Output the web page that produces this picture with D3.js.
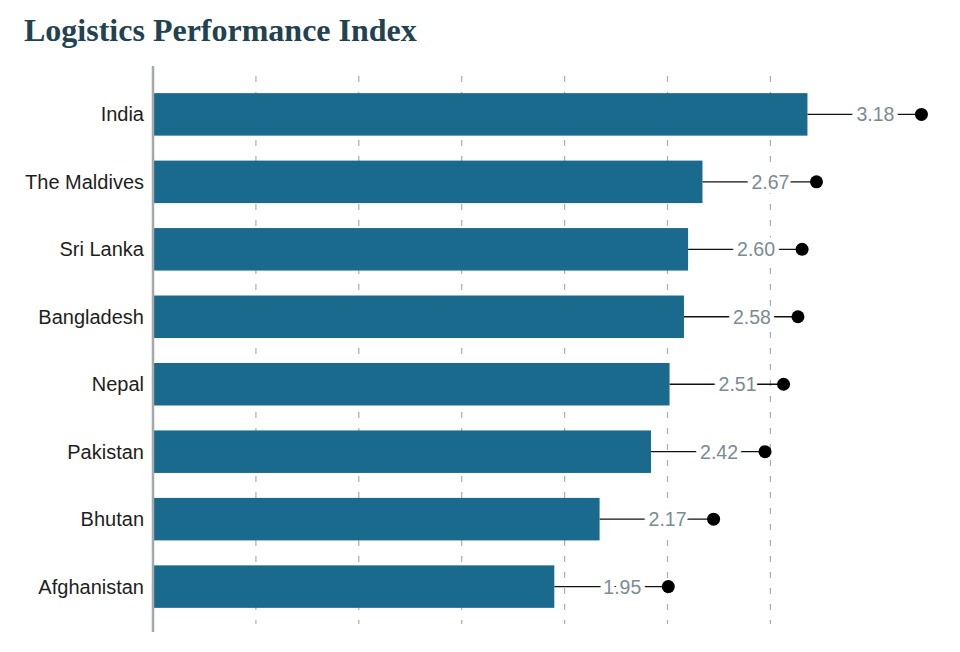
<!DOCTYPE html>
<html>
<head>
<meta charset="utf-8">
<script src="https://cdn.jsdelivr.net/npm/d3@7"></script>
<style>
  body { margin: 0; background: #fff; }
  #chart { width: 960px; height: 652px; }
</style>
</head>
<body>
<div id="chart"></div>
<script>
// chart values
const countries = ["India", "The Maldives", "Sri Lanka", "Bangladesh", "Nepal", "Pakistan", "Bhutan", "Afghanistan"];
const scores = [3.18, 2.67, 2.60, 2.58, 2.51, 2.42, 2.17, 1.95];
const gridTicks = [0.5, 1, 1.5, 2, 2.5, 3];

const width = 960;
const height = 652;
const left = 153;

const svg = d3.select("#chart")
    .append("svg")
    .attr("width", width)
    .attr("height", height);

// Title
svg.append("text")
    .attr("x", 24)
    .attr("y", 41)
    .style("font-family", "'Liberation Serif', 'DejaVu Serif', serif")
    .style("font-weight", "bold")
    .style("font-size", "32px")
    .style("fill", "#23424f")
    .text("Logistics Performance Index");

const x = d3.scaleLinear()
    .domain([0, 3])
    .range([left, left + 3 * 205.8]);

const y = d3.scaleBand()
    .domain(countries)
    .range([81, 620])
    .paddingInner(0.37)
    .paddingOuter(0.18);

// Dashed gridlines
svg.selectAll(".grid")
    .data(gridTicks)
    .join("line")
    .attr("class", "grid")
    .attr("x1", d => x(d))
    .attr("x2", d => x(d))
    .attr("y1", 76)
    .attr("y2", 624)
    .style("stroke", "#a9aeb1")
    .style("stroke-width", 1.2)
    .style("stroke-dasharray", "6,10");

const rows = countries.map((c, i) => ({ country: c, value: scores[i] }));

// Connector lines from bar end to dot
svg.selectAll(".conn")
    .data(rows)
    .join("line")
    .attr("class", "conn")
    .attr("x1", d => x(d.value))
    .attr("x2", d => x(d.value) + 114)
    .attr("y1", d => y(d.country) + y.bandwidth() / 2)
    .attr("y2", d => y(d.country) + y.bandwidth() / 2)
    .style("stroke", "#111")
    .style("stroke-width", 1.3);

// Bars
svg.selectAll(".bar")
    .data(rows)
    .join("rect")
    .attr("class", "bar")
    .attr("x", x(0) + 1)
    .attr("y", d => y(d.country))
    .attr("width", d => x(d.value) - x(0) - 1)
    .attr("height", y.bandwidth())
    .style("fill", "#1a6a8e");

// Value labels with white halo interrupting the line
svg.selectAll(".val")
    .data(rows)
    .join("text")
    .attr("class", "val")
    .attr("x", d => x(d.value) + 68)
    .attr("y", d => y(d.country) + y.bandwidth() / 2)
    .attr("text-anchor", "middle")
    .attr("dominant-baseline", "central")
    .style("font-family", "'Liberation Sans', Arial, sans-serif")
    .style("font-size", "19.5px")
    .style("fill", "#7b8b92")
    .style("stroke", "#fff")
    .style("stroke-width", 9)
    .style("paint-order", "stroke")
    .text(d => d3.format(".2f")(d.value));

// Dots
svg.selectAll(".dot")
    .data(rows)
    .join("circle")
    .attr("class", "dot")
    .attr("cx", d => x(d.value) + 114)
    .attr("cy", d => y(d.country) + y.bandwidth() / 2)
    .attr("r", 6.5)
    .style("fill", "#000");

// Category labels
svg.selectAll(".cat")
    .data(rows)
    .join("text")
    .attr("class", "cat")
    .attr("x", left - 9)
    .attr("y", d => y(d.country) + y.bandwidth() / 2)
    .attr("text-anchor", "end")
    .attr("dominant-baseline", "central")
    .style("font-family", "'Liberation Sans', Arial, sans-serif")
    .style("font-size", "20px")
    .style("fill", "#1e1e1e")
    .text(d => d.country);

// Left axis line
svg.append("line")
    .attr("x1", left)
    .attr("x2", left)
    .attr("y1", 66)
    .attr("y2", 632)
    .style("stroke", "#a3a9ad")
    .style("stroke-width", 2.5);
</script>
</body>
</html>
